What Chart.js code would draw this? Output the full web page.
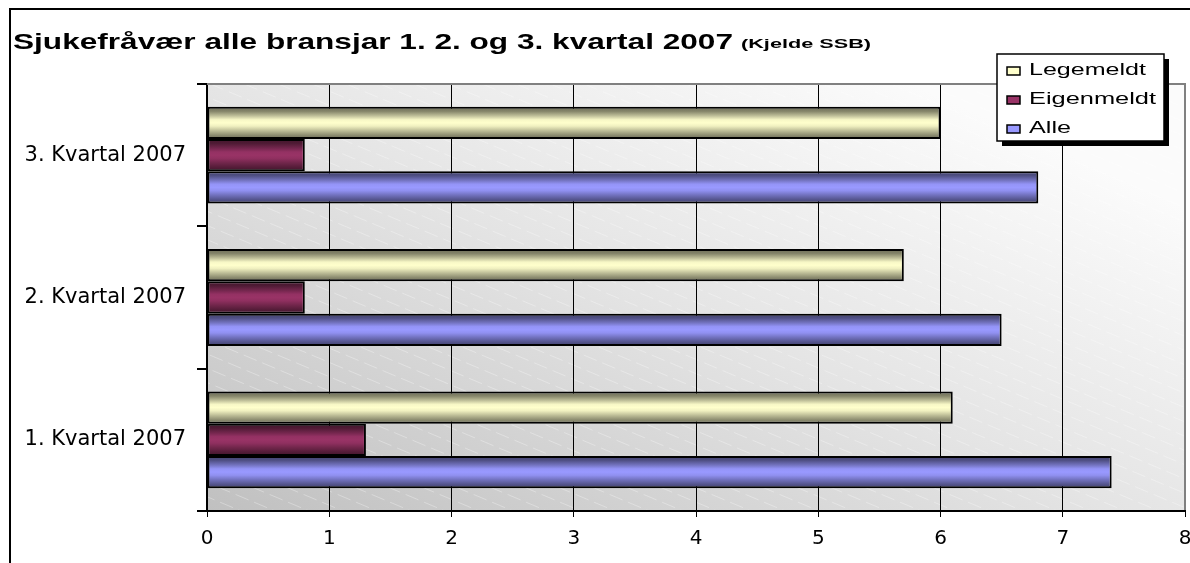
<!DOCTYPE html>
<html><head><meta charset="utf-8">
<script src="https://cdn.jsdelivr.net/npm/chart.js@4"></script>
<style>html,body{margin:0;padding:0;background:#fff}#wrap{width:1190px;height:563px;position:relative}canvas{display:block}</style>
</head><body><div id="wrap"><canvas id="c" width="1190" height="563"></canvas></div>
<script>
const categories = ['3. Kvartal 2007', '2. Kvartal 2007', '1. Kvartal 2007'];
const seriesNames = ['Legemeldt', 'Eigenmeldt', 'Alle'];
const legemeldt = [6.0, 5.7, 6.1];
const eigenmeldt = [0.8, 0.8, 1.3];
const alle = [6.8, 6.5, 7.4];
const xTicks = [0, 1, 2, 3, 4, 5, 6, 7, 8];
const titleMain = 'Sjukefråvær alle bransjar 1. 2. og 3. kvartal 2007';
const titleSource = '(Kjelde SSB)';
const seriesColors = ['#FFFFCC', '#993366', '#9999FF'];

function hexRgb(h) { return [parseInt(h.slice(1,3),16), parseInt(h.slice(3,5),16), parseInt(h.slice(5,7),16)]; }
function shade(h, f) { const c = hexRgb(h).map(v => Math.max(0, Math.min(255, Math.round(v * f)))); return `rgb(${c[0]},${c[1]},${c[2]})`; }
const shadeStops = [[0, 0.42], [0.14, 0.52], [0.28, 0.75], [0.4, 0.97], [0.5, 1.0], [0.6, 0.94], [0.74, 0.74], [0.88, 0.55], [1, 0.42]];

function drawScaledText(ctx, text, x, y, font, targetWidth) {
  ctx.save();
  ctx.font = font;
  const w = ctx.measureText(text).width;
  const sx = targetWidth / w;
  ctx.translate(x, y);
  ctx.scale(sx, 1);
  ctx.textAlign = 'left';
  ctx.textBaseline = 'alphabetic';
  ctx.fillText(text, 0, 0);
  ctx.restore();
}

const decoPlugin = {
  id: 'deco',
  beforeDraw(chart) {
    const { ctx, chartArea: a } = chart;
    ctx.save();
    ctx.fillStyle = '#fff';
    ctx.fillRect(0, 0, chart.width, chart.height);
    ctx.strokeStyle = '#000';
    ctx.lineWidth = 2;
    ctx.beginPath();
    ctx.moveTo(10, chart.height); ctx.lineTo(10, 9); ctx.lineTo(chart.width, 9);
    ctx.stroke();
    const g = ctx.createLinearGradient(a.left, a.bottom, a.left + 281, a.bottom - 620);
    g.addColorStop(0, '#c0c0c0');
    g.addColorStop(0.55, '#e4e4e4');
    g.addColorStop(1, '#fbfbfb');
    ctx.fillStyle = g;
    ctx.fillRect(a.left, a.top, a.right - a.left, a.bottom - a.top);
    ctx.beginPath();
    ctx.rect(a.left, a.top, a.right - a.left, a.bottom - a.top);
    ctx.clip();
    ctx.strokeStyle = 'rgba(255,255,255,0.3)';
    ctx.lineWidth = 1;
    ctx.setLineDash([14, 6]);
    ctx.beginPath();
    const h = a.bottom - a.top, slope = 0.42;
    for (let x0 = a.left - h / slope; x0 < a.right; x0 += 34) {
      ctx.moveTo(x0, a.top); ctx.lineTo(x0 + h / slope, a.bottom);
    }
    ctx.stroke();
    ctx.restore();
  },
  beforeDatasetsDraw(chart) {
    const ctx = chart.ctx;
    chart.data.datasets.forEach((ds, di) => {
      const meta = chart.getDatasetMeta(di);
      meta.data.forEach(el => {
        const top = el.y - el.height / 2, bot = el.y + el.height / 2;
        const g = ctx.createLinearGradient(0, top, 0, bot);
        shadeStops.forEach(([p, f]) => g.addColorStop(p, shade(seriesColors[di], f)));
        el.options.backgroundColor = g;
      });
    });
  },
  afterDraw(chart) {
    const { ctx, chartArea: a } = chart;
    ctx.save();
    ctx.strokeStyle = '#808080';
    ctx.lineWidth = 2;
    ctx.beginPath();
    ctx.moveTo(a.left, a.top); ctx.lineTo(a.right, a.top); ctx.lineTo(a.right, a.bottom - 1);
    ctx.stroke();
    ctx.fillStyle = '#000';
    drawScaledText(ctx, titleMain, 13, 49, 'bold 22px "Liberation Sans", Arial', 720);
    drawScaledText(ctx, titleSource, 741, 48, 'bold 13px "Liberation Sans", Arial', 130);
    const lx = 997, ly = 54, lw = 167, lh = 87;
    ctx.fillStyle = '#000';
    ctx.fillRect(lx + 5, ly + 5, lw, lh);
    ctx.fillStyle = '#fff';
    ctx.fillRect(lx, ly, lw, lh);
    ctx.strokeStyle = '#000';
    ctx.lineWidth = 1.5;
    ctx.strokeRect(lx, ly, lw, lh);
    const widths = [117, 127, 42];
    seriesNames.forEach((name, i) => {
      const by = 75 + i * 29;
      ctx.fillStyle = seriesColors[i];
      ctx.fillRect(1007, by - 8, 13, 8);
      ctx.strokeStyle = '#000';
      ctx.lineWidth = 1.5;
      ctx.strokeRect(1007, by - 8, 13, 8);
      ctx.fillStyle = '#000';
      drawScaledText(ctx, name, 1029, by, '16px "Liberation Sans", Arial', widths[i]);
    });
    ctx.restore();
  }
};

new Chart(document.getElementById('c'), {
  type: 'bar',
  data: {
    labels: categories,
    datasets: [
      { label: seriesNames[0], data: legemeldt, backgroundColor: () => seriesColors[0] },
      { label: seriesNames[1], data: eigenmeldt, backgroundColor: () => seriesColors[1] },
      { label: seriesNames[2], data: alle, backgroundColor: () => seriesColors[2] }
    ].map(d => Object.assign(d, { borderColor: '#000', borderWidth: 2, borderSkipped: false, categoryPercentage: 0.68, barPercentage: 1 }))
  },
  options: {
    indexAxis: 'y',
    responsive: false,
    animation: false,
    devicePixelRatio: 1,
    layout: { padding: { top: 84, right: 5, bottom: 0, left: 0 } },
    plugins: { legend: { display: false }, tooltip: { enabled: false }, title: { display: false } },
    scales: {
      x: {
        type: 'linear', min: 0, max: 8,
        afterBuildTicks: s => { s.ticks = xTicks.map(v => ({ value: v })); },
        ticks: { color: '#000', font: { family: '"DejaVu Sans"', size: 20 }, padding: 10, maxRotation: 0, autoSkip: false },
        grid: { color: '#000', lineWidth: 1, tickLength: 6, drawTicks: true },
        border: { color: '#000', width: 2 },
        afterFit: s => { s.height = 52; s.paddingLeft = 0; s.paddingRight = 0; }
      },
      y: {
        type: 'category',
        ticks: { color: '#000', font: { family: '"DejaVu Sans"', size: 21 }, padding: 11 },
        grid: { drawOnChartArea: false, color: '#000', lineWidth: 2, tickLength: 10, offset: true },
        border: { color: '#000', width: 2 },
        afterFit: s => { s.width = 207; s.paddingTop = 0; s.paddingBottom = 0; }
      }
    }
  },
  plugins: [decoPlugin]
});
</script>
</body></html>
